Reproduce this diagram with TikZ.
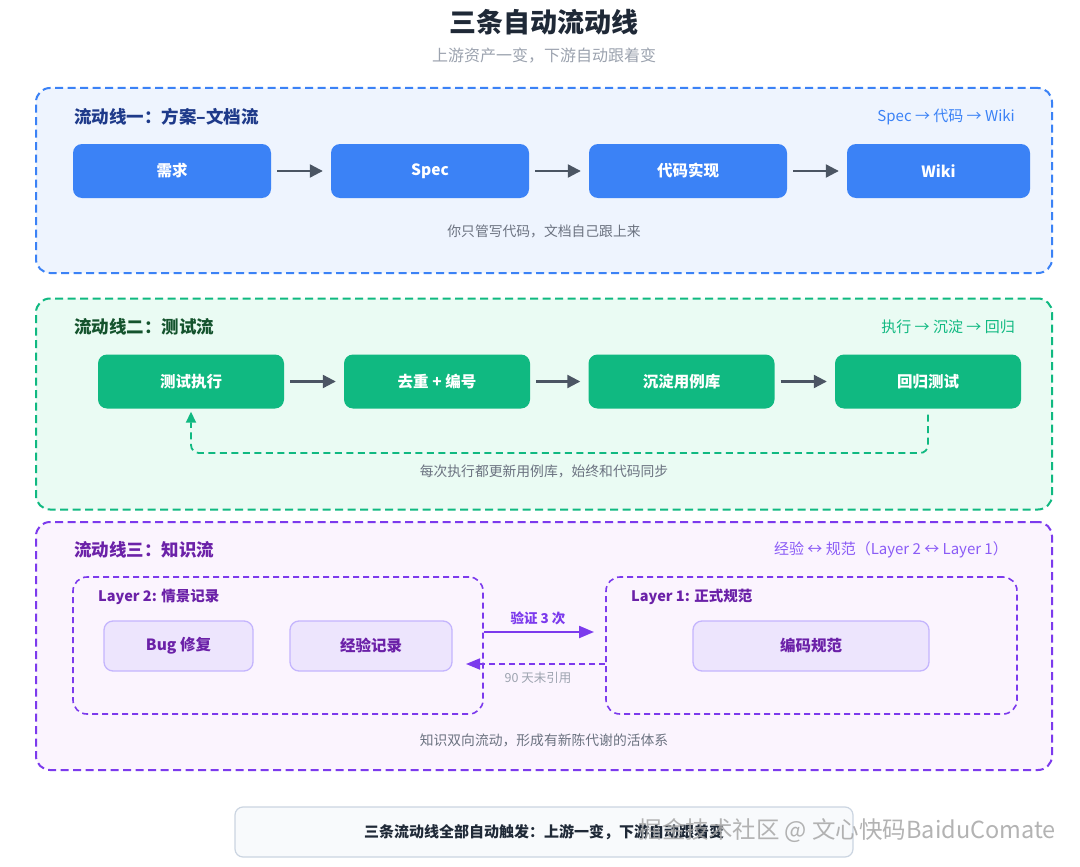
\documentclass[tikz,border=0pt]{standalone}
\usepackage{fontspec}
\setmainfont{Noto Sans CJK SC}
\usetikzlibrary{arrows.meta}
\definecolor{titlec}{HTML}{1F2937}
\definecolor{subc}{HTML}{9CA3AF}
\definecolor{notec}{HTML}{6B7280}
\definecolor{blueb}{HTML}{3B82F6}
\definecolor{bluef}{HTML}{EEF4FE}
\definecolor{bluet}{HTML}{1E3A8A}
\definecolor{greenb}{HTML}{10B981}
\definecolor{greenf}{HTML}{EAFBF3}
\definecolor{greent}{HTML}{14532D}
\definecolor{purpb}{HTML}{7C3AED}
\definecolor{purpf}{HTML}{FBF4FE}
\definecolor{purpt}{HTML}{6B21A8}
\definecolor{purpl}{HTML}{8B5CF6}
\definecolor{purpbox}{HTML}{EDE5FD}
\definecolor{purpboxb}{HTML}{C4B5FD}
\definecolor{arrowc}{HTML}{4B5563}
\definecolor{footf}{HTML}{F8FAFC}
\definecolor{footb}{HTML}{CBD5E1}
\begin{document}
\begin{tikzpicture}[x=1pt,y=-1pt,
  panel/.style={draw=#1, line width=2pt, dash pattern=on 8pt off 4.5pt, rounded corners=14pt, inner sep=0pt},
  ptitle/.style={anchor=west, inner sep=0pt, font=\fontsize{17.5}{20}\selectfont\bfseries},
  pnote/.style={anchor=east, inner sep=0pt, font=\fontsize{15}{18}\selectfont},
  cnote/.style={inner sep=0pt, text=notec, font=\fontsize{13.8}{16}\selectfont},
  bbox/.style={fill=blueb, rounded corners=9pt, text=white, minimum height=54pt, inner sep=0pt, font=\fontsize{15.5}{18}\selectfont\bfseries},
  gbox/.style={fill=greenb, rounded corners=9pt, text=white, minimum height=54pt, inner sep=0pt, font=\fontsize{15.5}{18}\selectfont\bfseries},
  pbox/.style={fill=purpbox, draw=purpboxb, line width=1.3pt, rounded corners=9pt, text=purpt, minimum height=50pt, inner sep=0pt, font=\fontsize{15.5}{18}\selectfont\bfseries},
  layer/.style={draw=purpb, line width=1.6pt, dash pattern=on 6pt off 4pt, rounded corners=14pt, inner sep=0pt},
  ltitle/.style={anchor=west, inner sep=0pt, text=purpt, font=\fontsize{14.5}{17}\selectfont\bfseries},
  flow/.style={draw=arrowc, line width=2.2pt, -{Triangle[length=13pt,width=13pt]}},
]
\useasboundingbox (0,0) rectangle (1080,867);
\fill[white] (0,0) rectangle (1080,867);

% title
\node[inner sep=0pt, text=titlec, font=\fontsize{27}{31}\selectfont\bfseries] (title) at (544,22) {三条自动流动线};
\node[inner sep=0pt, text=subc, font=\fontsize{16}{19}\selectfont] (subtitle) at (544,56) {上游资产一变，下游自动跟着变};

% ===== panel 1 =====
\node[panel=blueb, fill=bluef, minimum width=1016pt, minimum height=185pt] (p1) at (544,180.5) {};
\node[ptitle, text=bluet] (p1t) at (74,117) {流动线一：方案–文档流};
\node[pnote, text=blueb] (p1n) at (1015,117) {Spec → 代码 → Wiki};
\node[bbox, minimum width=198pt] (a1) at (172,171) {需求};
\node[bbox, minimum width=198pt] (a2) at (430,171) {Spec};
\node[bbox, minimum width=198pt] (a3) at (688,171) {代码实现};
\node[bbox, minimum width=183pt] (a4) at (938.5,171) {Wiki};
\draw[flow, shorten <=6pt, shorten >=8pt] (a1) -- (a2);
\draw[flow, shorten <=6pt, shorten >=8pt] (a2) -- (a3);
\draw[flow, shorten <=6pt, shorten >=8pt] (a3) -- (a4);
\node[cnote] (p1c) at (544,231) {你只管写代码，文档自己跟上来};

% ===== panel 2 =====
\node[panel=greenb, fill=greenf, minimum width=1016pt, minimum height=211pt] (p2) at (544,404) {};
\node[ptitle, text=greent] (p2t) at (74,327) {流动线二：测试流};
\node[pnote, text=greenb] (p2n) at (1015,327) {执行 → 沉淀 → 回归};
\node[gbox, minimum width=186pt] (b1) at (191,381.5) {测试执行};
\node[gbox, minimum width=186pt] (b2) at (437,381.5) {去重 + 编号};
\node[gbox, minimum width=186pt] (b3) at (681.5,381.5) {沉淀用例库};
\node[gbox, minimum width=186pt] (b4) at (928,381.5) {回归测试};
\draw[flow, shorten <=6pt, shorten >=8pt] (b1) -- (b2);
\draw[flow, shorten <=6pt, shorten >=8pt] (b2) -- (b3);
\draw[flow, shorten <=6pt, shorten >=8pt] (b3) -- (b4);
\coordinate (loopy) at (0,453);
\draw[draw=greenb, line width=1.8pt, dash pattern=on 7pt off 4.5pt, rounded corners=8pt, -{Triangle[length=11pt,width=10pt]}, shorten <=6pt, shorten >=3pt]
  (b4.south) |- (loopy -| b1.south) -- (b1.south);
\node[cnote] (p2c) at (544,471) {每次执行都更新用例库，始终和代码同步};

% ===== panel 3 =====
\node[panel=purpb, fill=purpf, minimum width=1016pt, minimum height=248pt] (p3) at (544,646) {};
\node[ptitle, text=purpt] (p3t) at (74,550) {流动线三：知识流};
\node[pnote, text=purpl] (p3n) at (1008,550) {经验 ↔ 规范（Layer 2 ↔ Layer 1）};
\node[layer, minimum width=410pt, minimum height=137pt] (L2) at (278,645.5) {};
\node[layer, minimum width=411pt, minimum height=137pt] (L1) at (811.5,645.5) {};
\node[ltitle] (L2t) at (98,597) {Layer 2: 情景记录};
\node[ltitle] (L1t) at (631,597) {Layer 1: 正式规范};
\node[pbox, minimum width=149pt] (c1) at (178.5,646) {Bug 修复};
\node[pbox, minimum width=162pt] (c2) at (371,646) {经验记录};
\node[pbox, minimum width=236pt] (c3) at (811,646) {编码规范};
\coordinate (up) at (594,632);
\coordinate (down) at (466,664);
\draw[draw=purpb, line width=2.2pt, -{Triangle[length=15pt,width=12pt]}] (L2.east |- up) -- (up);
\draw[draw=purpb, line width=1.8pt, dash pattern=on 6pt off 4pt, -{Triangle[length=14pt,width=11pt]}] (L1.west |- down) -- (down);
\node[inner sep=0pt, text=purpb, font=\fontsize{13.5}{16}\selectfont\bfseries] (upl) at (538,618) {验证 3 次};
\node[inner sep=0pt, text=subc, font=\fontsize{12.5}{15}\selectfont] (downl) at (538,678) {90 天未引用};
\node[cnote] (p3c) at (544,740) {知识双向流动，形成有新陈代谢的活体系};

% ===== footer =====
\node[draw=footb, fill=footf, line width=1.2pt, rounded corners=8pt, minimum width=618pt, minimum height=50pt, inner sep=0pt] (foot) at (544,832) {};
\node[inner sep=0pt, text=titlec, font=\fontsize{15}{18}\selectfont\bfseries] (foott) at (544,832) {三条流动线全部自动触发：上游一变，下游自动跟着变};
\node[inner sep=0pt, anchor=east, text=gray!70, opacity=0.85, font=\fontsize{23.5}{27}\selectfont] (wm) at (1056,831) {掘金技术社区 @ 文心快码BaiduComate};
\end{tikzpicture}
\end{document}
